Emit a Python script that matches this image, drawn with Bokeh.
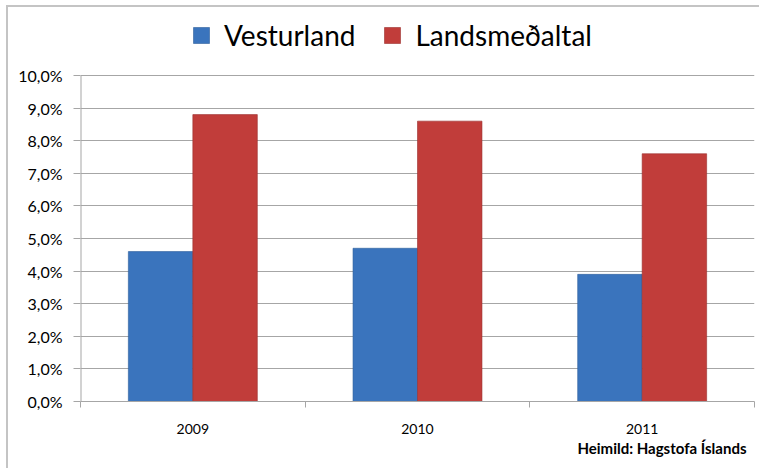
from bokeh.plotting import figure
from bokeh.models import ColumnDataSource, FixedTicker, Legend, LegendItem, Title, Range1d
from bokeh.transform import dodge
from bokeh.embed import file_html
from bokeh.resources import INLINE

years = ["2009", "2010", "2011"]
vesturland = [0.046, 0.047, 0.039]
landsmedaltal = [0.088, 0.086, 0.076]
series_names = ["Vesturland", "Landsmeðaltal"]
y_ticks = [0.00, 0.01, 0.02, 0.03, 0.04, 0.05, 0.06, 0.07, 0.08, 0.09, 0.10]
y_tick_labels = ["0,0%", "1,0%", "2,0%", "3,0%", "4,0%", "5,0%", "6,0%", "7,0%", "8,0%", "9,0%", "10,0%"]
source_text = "Heimild: Hagstofa Íslands"

FONT = "Lato"
BLUE = "#3a74bd"
RED = "#c13d3a"
GRID = "#a6a6a6"
FRAME = "#c4c4c4"

W, H = 759, 468
LEFT, RIGHT, BOTTOM = 80, 5, 67
AXIS_TOP = 75  # pixel where the top tick sits
frame_h = H - BOTTOM
y_end = y_ticks[-1] * frame_h / (frame_h - AXIS_TOP)

xpos = [i + 0.5 for i in range(len(years))]
src = ColumnDataSource(dict(x=xpos, v=vesturland, l=landsmedaltal))

p = figure(width=W, height=H,
           x_range=Range1d(0, len(years)), y_range=Range1d(y_ticks[0], y_end),
           output_backend="svg", toolbar_location=None,
           min_border_left=LEFT, min_border_right=RIGHT, min_border_top=0, min_border_bottom=BOTTOM)
p.outline_line_color = None
p.background_fill_alpha = 0
p.border_fill_alpha = 0
p.styles = {
    "background-color": "white",
    "background-image": f"linear-gradient({FRAME},{FRAME}), linear-gradient({FRAME},{FRAME})",
    "background-size": "2px 100%, 100% 2px",
    "background-position": "6px 6px, 6px 5px",
    "background-repeat": "no-repeat",
}

bw = 0.287
r1 = p.vbar(x=dodge("x", -bw / 2, range=p.x_range), top="v", width=bw, source=src,
            fill_color=BLUE, line_color="#2e5e9a", line_width=0.6)
r2 = p.vbar(x=dodge("x", bw / 2, range=p.x_range), top="l", width=bw, source=src,
            fill_color=RED, line_color="#9a2f2d", line_width=0.6)

# y axis line only up to the top tick
p.segment(x0=[0], y0=[y_ticks[0]], x1=[0], y1=[y_ticks[-1]], line_color=GRID, line_width=2)

# x axis: labels at centres, ticks at boundaries
p.xaxis.ticker = FixedTicker(ticks=xpos, minor_ticks=list(range(len(years) + 1)))
p.xaxis.major_label_overrides = {x: y for x, y in zip(xpos, years)}
p.xaxis.major_tick_line_color = None
p.xaxis.major_tick_out = 0
p.xaxis.major_tick_in = 0
p.xaxis.minor_tick_line_color = GRID
p.xaxis.minor_tick_out = 6
p.xaxis.minor_tick_in = 0
p.xaxis.axis_line_color = GRID
p.xaxis.major_label_standoff = 16
p.xaxis.major_label_text_font = FONT
p.xaxis.major_label_text_font_size = "14px"
p.xaxis.major_label_text_color = "#000000"
p.xgrid.grid_line_color = None

p.yaxis.ticker = FixedTicker(ticks=y_ticks, minor_ticks=[])
p.yaxis.major_label_overrides = {t: s for t, s in zip(y_ticks, y_tick_labels)}
p.yaxis.axis_line_color = None
p.yaxis.major_tick_line_color = GRID
p.yaxis.major_tick_out = 7
p.yaxis.major_tick_in = 0
p.yaxis.minor_tick_line_color = None
p.yaxis.major_label_standoff = 11
p.yaxis.major_label_text_font = FONT
p.yaxis.major_label_text_font_size = "16px"
p.yaxis.major_label_text_color = "#000000"
p.ygrid.grid_line_color = GRID
p.ygrid.grid_line_width = 1

legend = Legend(items=[LegendItem(label=series_names[0], renderers=[r1]),
                       LegendItem(label=series_names[1], renderers=[r2])],
                orientation="horizontal", location=(111, frame_h - 37 - 15),
                glyph_width=20, glyph_height=20, label_standoff=13, spacing=27,
                padding=0, margin=0, border_line_color=None, background_fill_alpha=0,
                label_text_font=FONT, label_text_font_size="28px", label_text_color="#000000",
                label_height=30)
p.add_layout(legend, "center")

t = Title(text=source_text, align="right", text_font=FONT, text_font_style="bold",
          text_font_size="15px", text_color="#000000", standoff=0, offset=8)
p.add_layout(t, "below")

open("out.html", "w").write(file_html(p, INLINE))
